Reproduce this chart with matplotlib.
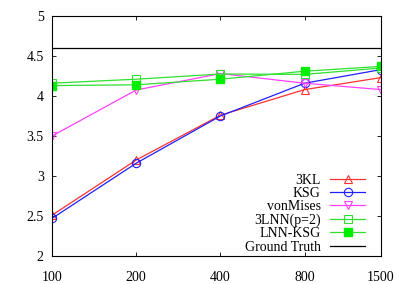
import numpy as np
import matplotlib
matplotlib.use("Agg")
import matplotlib.pyplot as plt

#--------data--------
n_samples = [100, 200, 400, 800, 1500]
kl3 = [2.51, 3.20, 3.76, 4.08, 4.23]
ksg = [2.47, 3.16, 3.75, 4.16, 4.33]
von_mises = [3.50, 4.075, 4.28, 4.16, 4.08]
lnn3 = [4.16, 4.21, 4.275, 4.27, 4.35]
lnn_ksg = [4.13, 4.14, 4.21, 4.31, 4.37]
ground_truth = 4.605
#--------data end--------

plt.rcParams["font.family"] = ["Liberation Serif", "DejaVu Serif"]
plt.rcParams["font.size"] = 10

fig = plt.figure(figsize=(4.05, 2.84), dpi=100)
ax = fig.add_axes([52 / 405, 1 - 256 / 284, (381 - 52) / 405, (256 - 16) / 284])

ms = 6
ax.plot(n_samples, kl3, color="#ff3030", lw=0.9, marker="^", ms=ms, mfc="none", mew=0.8, label="3KL")
ax.plot(n_samples, ksg, color="#2020ff", lw=0.9, marker="o", ms=ms, mfc="none", mew=0.8, label="KSG")
ax.plot(n_samples, von_mises, color="#ff40ff", lw=0.9, marker="v", ms=ms, mfc="none", mew=0.8, label="vonMises")
ax.plot(n_samples, lnn3, color="#30e030", lw=0.9, marker="s", ms=ms, mfc="none", mew=0.8, label="3LNN(p=2)")
ax.plot(n_samples, lnn_ksg, color="#30e030", lw=0.9, marker="s", ms=ms, mfc="#00ee00", mec="#00ee00", label="LNN-KSG")
ax.axhline(ground_truth, color="black", lw=0.9, label="Ground Truth")

ax.set_xscale("log")
ax.set_xlim(100, 1500)
ax.set_ylim(2, 5)
ax.set_xticks(n_samples)
ax.set_xticklabels([str(n) for n in n_samples])
ax.minorticks_off()
ax.set_yticks([2, 2.5, 3, 3.5, 4, 4.5, 5])
ax.set_yticklabels(["2", "2.5", "3", "3.5", "4", "4.5", "5"])
ax.tick_params(direction="in", top=True, right=True, length=3, width=0.6)
ax.tick_params(axis="y", pad=6)
ax.tick_params(axis="x", pad=11)
for s in ax.spines.values():
  s.set_linewidth(0.8)

ax.legend(loc="lower right", bbox_to_anchor=(0.952, 0.01), frameon=False, markerfirst=False,
          handlelength=2.5, borderpad=0, borderaxespad=0, labelspacing=0.02,
          handletextpad=0.7, fontsize=10)

plt.savefig("out.png", dpi=100)
